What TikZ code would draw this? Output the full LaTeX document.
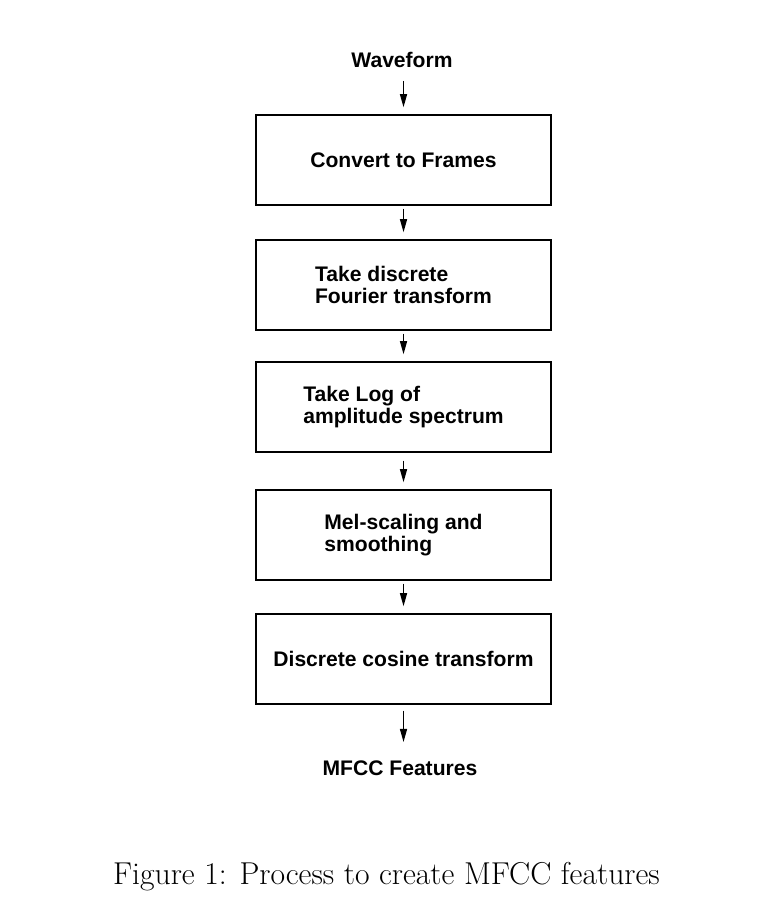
\documentclass[tikz,border=0pt]{standalone}
\usepackage{fontspec}
\setsansfont{Liberation Sans}
\usetikzlibrary{arrows.meta}

\begin{document}
\begin{tikzpicture}[
    x=0.02cm, y=-0.02cm,
    >={Triangle[length=7.5pt, width=4pt]},
    flow/.style={->, line width=0.8pt, shorten >=4pt, shorten <=1.7pt},
    stage/.style={draw, line width=0.8pt, minimum width=5.9cm, minimum height=1.8cm,
      align=left, font=\fontsize{12}{12.5}\selectfont\sffamily\bfseries},
    ends/.style={font=\fontsize{12}{12.5}\selectfont\sffamily\bfseries}
  ]
  \useasboundingbox (0,0) rectangle (772,914);

  % Ingresso e uscita
  \node[ends] (waveform) at (402, 60)  {Waveform};
  \node[ends] (mfcc)     at (400, 768) {MFCC Features};

  % Blocchi
  \node[stage] (frames) at (403.5, 160) {Convert to Frames};
  \node[stage] (dft)    at (403.5, 285) {Take discrete\\Fourier transform};
  \node[stage] (logamp) at (403.5, 407) {Take Log of\\amplitude spectrum};
  \node[stage] (mel)    at (403.5, 535) {Mel-scaling and\\smoothing};
  \node[stage] (dct)    at (403.5, 659) {Discrete cosine transform};

  % Frecce
  \draw[flow, shorten <=4pt] (waveform.south -| frames.north) -- (frames);
  \draw[flow] (frames) -- (dft);
  \draw[flow] (dft)    -- (logamp);
  \draw[flow, shorten <=4.5pt] (logamp) -- (mel);
  \draw[flow] (mel)    -- (dct);
  \draw[flow, shorten <=3.4pt, shorten >=7pt] (dct) -- (mfcc.north -| dct.south);

  % Didascalia
  \node[font=\fontsize{18}{21}\selectfont] (caption) at (386.5, 877) {Figure 1: Process to create MFCC features};

\end{tikzpicture}
\end{document}
